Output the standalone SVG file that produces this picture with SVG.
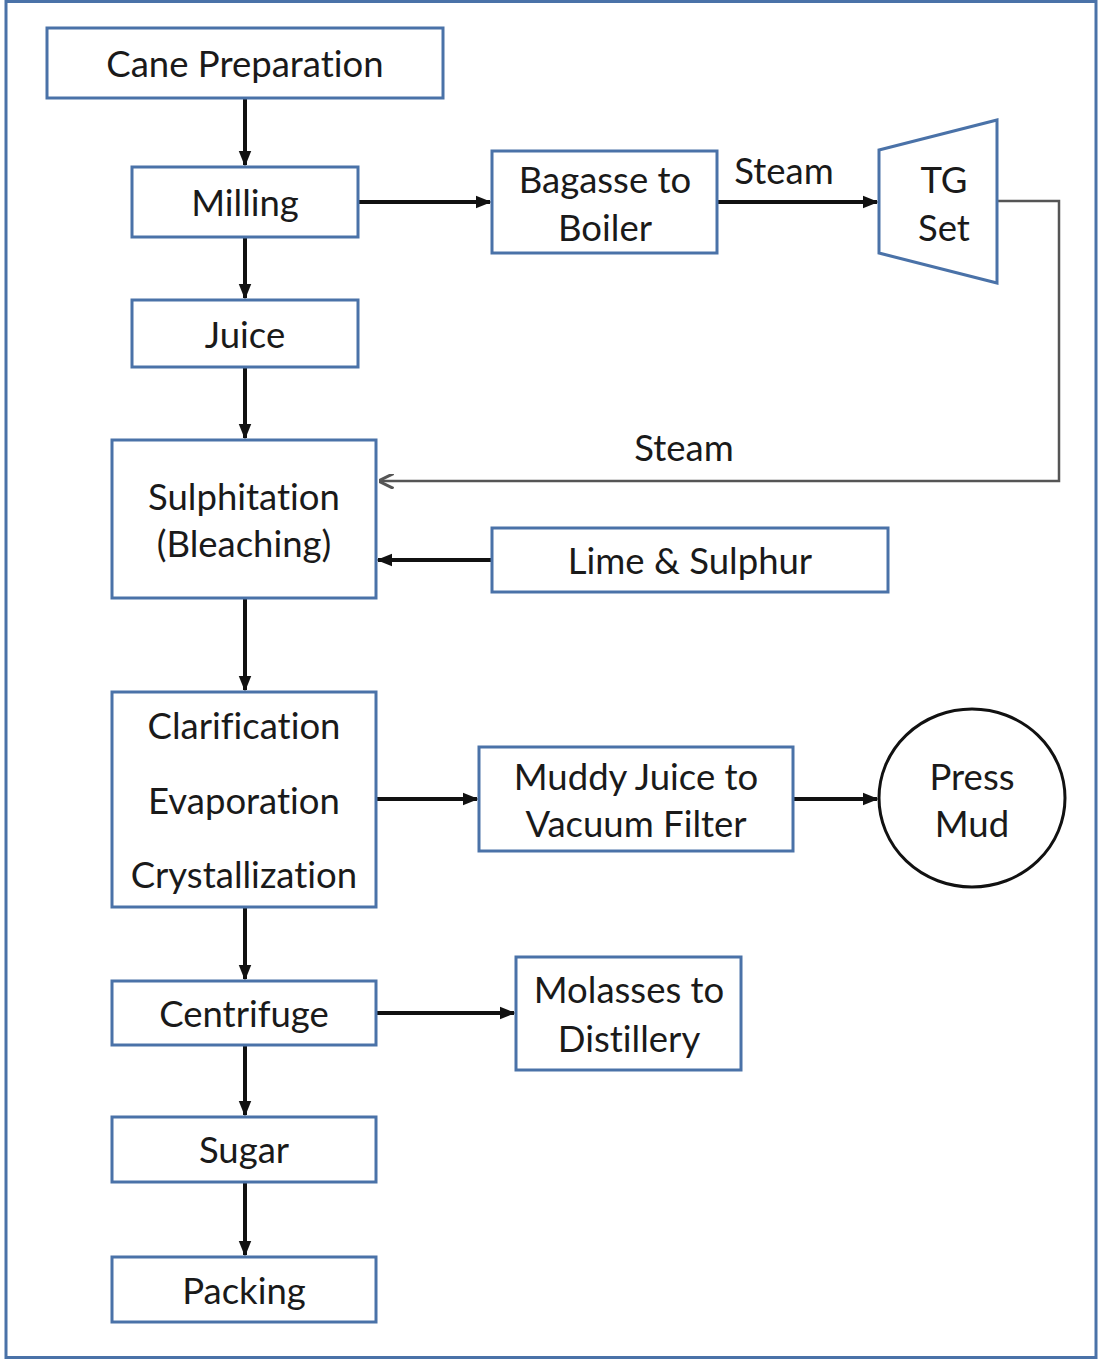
<svg xmlns="http://www.w3.org/2000/svg" width="1099" height="1360" viewBox="0 0 1099 1360">
<defs>
<style>
.box{fill:#fff;stroke:#4a72a8;stroke-width:3}
.t{font-family:Lato,"Open Sans","Liberation Sans",sans-serif;font-size:36.5px;fill:#1a1a1a;text-anchor:middle;font-variant-ligatures:none}
.c{fill:none;stroke:#111;stroke-width:4}
.g{fill:none;stroke:#555;stroke-width:2.5}
</style>
<marker id="ah" viewBox="0 0 10 10" refX="9" refY="5" markerWidth="4" markerHeight="4" orient="auto" markerUnits="strokeWidth">
<path d="M0,1 L10,5 L0,9 Z" fill="#111"/>
</marker>
<marker id="oh" viewBox="0 0 10 10" refX="9" refY="5" markerWidth="6" markerHeight="6" orient="auto" markerUnits="strokeWidth">
<path d="M0,0 L10,5 L0,10" fill="none" stroke="#555" stroke-width="2"/>
</marker>
</defs>
<rect x="6" y="1.5" width="1090" height="1356" fill="#fff" stroke="#4a72a8" stroke-width="3"/>
<g id="connectors">
<line class="c" x1="245" y1="99" x2="245" y2="165" marker-end="url(#ah)"/>
<line class="c" x1="245" y1="238" x2="245" y2="298" marker-end="url(#ah)"/>
<line class="c" x1="245" y1="368" x2="245" y2="438" marker-end="url(#ah)"/>
<line class="c" x1="245" y1="599" x2="245" y2="690" marker-end="url(#ah)"/>
<line class="c" x1="245" y1="908" x2="245" y2="979" marker-end="url(#ah)"/>
<line class="c" x1="245" y1="1046" x2="245" y2="1115" marker-end="url(#ah)"/>
<line class="c" x1="245" y1="1183" x2="245" y2="1255" marker-end="url(#ah)"/>
<line class="c" x1="359" y1="202" x2="490" y2="202" marker-end="url(#ah)"/>
<line class="c" x1="718" y1="202" x2="877" y2="202" marker-end="url(#ah)"/>
<polyline class="g" points="998,201 1059,201 1059,481 380,481" marker-end="url(#oh)"/>
<line class="c" x1="491" y1="560" x2="378" y2="560" marker-end="url(#ah)"/>
<line class="c" x1="377" y1="799" x2="477" y2="799" marker-end="url(#ah)"/>
<line class="c" x1="794" y1="799" x2="877" y2="799" marker-end="url(#ah)"/>
<line class="c" x1="377" y1="1013" x2="514" y2="1013" marker-end="url(#ah)"/>
<text class="t" x="784" y="184">Steam</text>
<text class="t" x="684" y="461">Steam</text>
</g>
<g id="cane"><rect class="box" x="47" y="28" width="396" height="70"/><text class="t" x="245" y="77">Cane Preparation</text></g>
<g id="milling"><rect class="box" x="132" y="167" width="226" height="70"/><text class="t" x="245" y="216">Milling</text></g>
<g id="bagasse"><rect class="box" x="492" y="151" width="225" height="102"/><text class="t" x="605" y="193">Bagasse to</text><text class="t" x="605" y="241">Boiler</text></g>
<g id="tg"><polygon class="box" points="879,150 997,120 997,283 879,253"/><text class="t" x="944" y="193">TG</text><text class="t" x="944" y="241">Set</text></g>
<g id="juice"><rect class="box" x="132" y="300" width="226" height="67"/><text class="t" x="245" y="348">Juice</text></g>
<g id="sulph"><rect class="box" x="112" y="440" width="264" height="158"/><text class="t" x="244" y="510">Sulphitation</text><text class="t" x="244" y="557">(Bleaching)</text></g>
<g id="lime"><rect class="box" x="492" y="528" width="396" height="64"/><text class="t" x="690" y="574">Lime &amp; Sulphur</text></g>
<g id="clar"><rect class="box" x="112" y="692" width="264" height="215"/><text class="t" x="244" y="739">Clarification</text><text class="t" x="244" y="814">Evaporation</text><text class="t" x="244" y="888">Crystallization</text></g>
<g id="muddy"><rect class="box" x="479" y="747" width="314" height="104"/><text class="t" x="636" y="790">Muddy Juice to</text><text class="t" x="636" y="837">Vacuum Filter</text></g>
<g id="pressmud"><ellipse cx="972" cy="798" rx="93" ry="89" fill="#fff" stroke="#111" stroke-width="3"/><text class="t" x="972" y="790">Press</text><text class="t" x="972" y="837">Mud</text></g>
<g id="centrifuge"><rect class="box" x="112" y="981" width="264" height="64"/><text class="t" x="244" y="1027">Centrifuge</text></g>
<g id="molasses"><rect class="box" x="516" y="957" width="225" height="113"/><text class="t" x="629" y="1003">Molasses to</text><text class="t" x="629" y="1052">Distillery</text></g>
<g id="sugar"><rect class="box" x="112" y="1117" width="264" height="65"/><text class="t" x="244" y="1163">Sugar</text></g>
<g id="packing"><rect class="box" x="112" y="1257" width="264" height="65"/><text class="t" x="244" y="1304">Packing</text></g>
</svg>
